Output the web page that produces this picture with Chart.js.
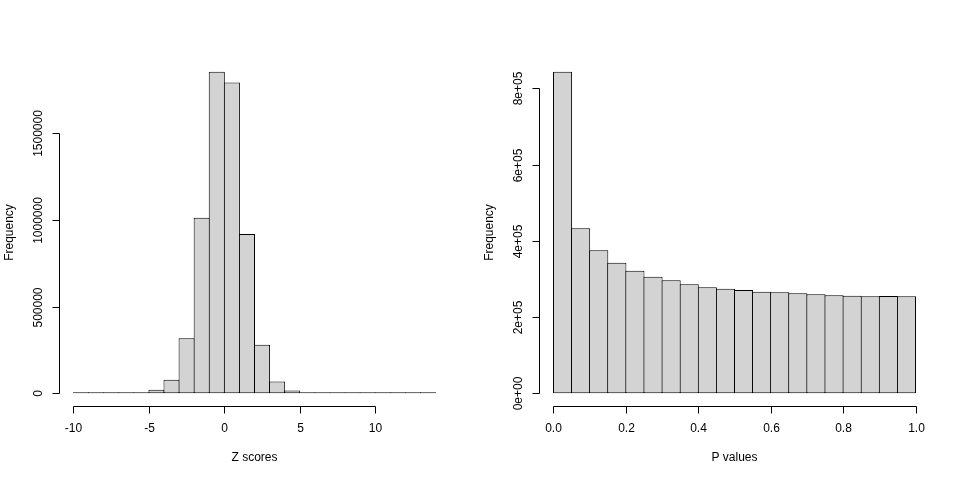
<!DOCTYPE html>
<html>
<head>
<meta charset="utf-8">
<script src="https://cdn.jsdelivr.net/npm/chart.js@4"></script>
<style>
  body { margin: 0; background: #fff; }
  .row { display: flex; width: 960px; height: 480px; }
  canvas { display: block; }
</style>
</head>
<body>
<div class="row">
  <canvas id="zChart" width="480" height="480"></canvas>
  <canvas id="pChart" width="480" height="480"></canvas>
</div>
<script>
// Z score histogram (bins of width 1)
const zBinStarts = [-10, -9, -8, -7, -6, -5, -4, -3, -2, -1, 0, 1, 2, 3, 4, 5, 6, 7, 8, 9, 10, 11, 12, 13];
const zCounts = [100, 300, 800, 1800, 4500, 19000, 77000, 317000, 1013000, 1856000, 1794000, 919000,
                 279000, 67000, 15000, 5000, 3000, 1500, 900, 600, 400, 300, 200, 100];
const zTicks = [-10, -5, 0, 5, 10];
const zTickLabels = ['-10', '-5', '0', '5', '10'];
const zFreqTicks = [0, 500000, 1000000, 1500000];
const zFreqLabels = ['0', '500000', '1000000', '1500000'];

// P value histogram (bins of width 0.05)
const pBinStarts = [0, 0.05, 0.1, 0.15, 0.2, 0.25, 0.3, 0.35, 0.4, 0.45,
                    0.5, 0.55, 0.6, 0.65, 0.7, 0.75, 0.8, 0.85, 0.9, 0.95];
const pCounts = [843500, 432800, 375000, 342600, 321600, 305900, 296400, 285900, 278000, 274400,
                 271000, 266500, 264900, 262300, 259700, 257000, 256000, 254400, 255200, 254400];
const pTicks = [0, 0.2, 0.4, 0.6, 0.8, 1];
const pTickLabels = ['0.0', '0.2', '0.4', '0.6', '0.8', '1.0'];
const pFreqTicks = [0, 200000, 400000, 600000, 800000];
const pFreqLabels = ['0e+00', '2e+05', '4e+05', '6e+05', '8e+05'];

const FONT = '12px "Liberation Sans", Arial, sans-serif';

// base-graphics style axes: line only between first and last tick, outward ticks
const rAxes = {
  id: 'rAxes',
  afterDraw(chart, args, opts) {
    const { ctx, chartArea } = chart;
    const x = chart.scales.x, y = chart.scales.y;
    ctx.save();
    ctx.strokeStyle = '#000';
    ctx.fillStyle = '#000';
    ctx.lineWidth = 1;
    ctx.font = FONT;
    ctx.textAlign = 'center';
    ctx.textBaseline = 'middle';

    const by = Math.round(chartArea.bottom) + 0.5;
    const xs = opts.xTicks.map(v => Math.round(x.getPixelForValue(v)) + 0.5);
    ctx.beginPath();
    ctx.moveTo(xs[0], by);
    ctx.lineTo(xs[xs.length - 1], by);
    xs.forEach(px => { ctx.moveTo(px, by); ctx.lineTo(px, by + 7); });
    ctx.stroke();
    xs.forEach((px, i) => ctx.fillText(opts.xLabels[i], px, by + 22));
    ctx.fillText(opts.xTitle, (chartArea.left + chartArea.right) / 2, by + 51);

    const lx = Math.round(chartArea.left) + 0.5;
    const ys = opts.yTicks.map(v => Math.round(y.getPixelForValue(v)) + 0.5);
    ctx.beginPath();
    ctx.moveTo(lx, ys[0]);
    ctx.lineTo(lx, ys[ys.length - 1]);
    ys.forEach(py => { ctx.moveTo(lx, py); ctx.lineTo(lx - 7, py); });
    ctx.stroke();
    ys.forEach((py, i) => {
      ctx.save();
      ctx.translate(lx - 21, py);
      ctx.rotate(-Math.PI / 2);
      ctx.fillText(opts.yLabels[i], 0, 0);
      ctx.restore();
    });
    ctx.save();
    ctx.translate(lx - 49.5, (chartArea.top + chartArea.bottom) / 2);
    ctx.rotate(-Math.PI / 2);
    ctx.fillText(opts.yTitle, 0, 0);
    ctx.restore();
    ctx.restore();
  }
};

function histChart(id, starts, binWidth, counts, barPct, axes) {
  const first = starts[0], last = starts[starts.length - 1] + binWidth;
  const xPad = (last - first) * 0.04;
  const yMax = Math.max(...counts);
  new Chart(document.getElementById(id), {
    type: 'bar',
    data: {
      datasets: [{
        data: starts.map((s, i) => ({ x: s + binWidth / 2, y: counts[i] })),
        backgroundColor: '#d3d3d3',
        borderColor: '#000',
        borderWidth: 1,
        borderSkipped: false,
        minBarLength: 1,
        categoryPercentage: 1,
        barPercentage: barPct
      }]
    },
    options: {
      responsive: false,
      animation: false,
      layout: { padding: { left: 59, top: 59, right: 30, bottom: 74 } },
      plugins: {
        legend: { display: false },
        tooltip: { enabled: false },
        rAxes: axes
      },
      scales: {
        x: { type: 'linear', display: false, offset: false, min: first - xPad, max: last + xPad },
        y: { type: 'linear', display: false, min: -yMax * 0.04, max: yMax * 1.04 }
      }
    },
    plugins: [rAxes]
  });
}

histChart('zChart', zBinStarts, 1, zCounts, 1.066, {
  xTicks: zTicks, xLabels: zTickLabels, xTitle: 'Z scores',
  yTicks: zFreqTicks, yLabels: zFreqLabels, yTitle: 'Frequency'
});
histChart('pChart', pBinStarts, 0.05, pCounts, 1.055, {
  xTicks: pTicks, xLabels: pTickLabels, xTitle: 'P values',
  yTicks: pFreqTicks, yLabels: pFreqLabels, yTitle: 'Frequency'
});
</script>
</body>
</html>
